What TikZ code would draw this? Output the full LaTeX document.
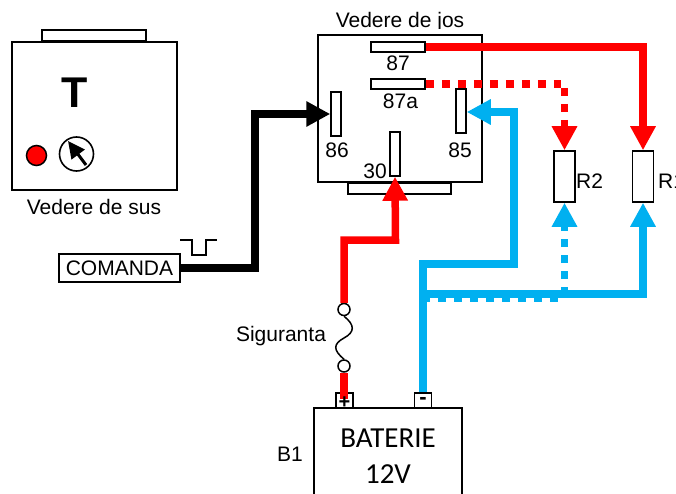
\documentclass[tikz,border=0pt]{standalone}
\usepackage{fontspec}
\setmainfont{Liberation Sans}
\newfontfamily\calib{Carlito}
\usetikzlibrary{arrows.meta,calc}
\definecolor{wred}{RGB}{255,0,0}
\definecolor{wblue}{RGB}{0,176,240}
\tikzset{
  pin/.style 2 args={draw=black,line width=1.5pt,fill=white,inner sep=0pt,minimum width=#1,minimum height=#2},
  lbl/.style={inner sep=0pt,font=\fontsize{21}{21}\selectfont,text=black},
  wire/.style={line width=7.5pt,line join=miter},
  tip/.style={-{Triangle[length=24pt,width=24pt]}},
  dots/.style={dash pattern=on 8pt off 8pt},
  term/.style={draw=black,line width=1.4pt,fill=white,inner sep=0pt,minimum width=17pt,minimum height=15pt},
  fusepin/.style={circle,draw=black,line width=1.5pt,fill=white,inner sep=0pt,minimum size=12pt}
}
\begin{document}
\begin{tikzpicture}[x=1pt,y=-1pt]
\useasboundingbox (0,0) rectangle (676,494);
\clip (0,0) rectangle (676,494);
% top view
\node[pin={104pt}{11pt}] (toptab) at (94,35.5) {};
\node[pin={165pt}{148pt}] (topbox) at (94.5,116) {};
\node[inner sep=0pt,font=\bfseries\fontsize{43}{43}\selectfont] (tee) at (75,92.5) {T};
\node[circle,draw=black,line width=1.5pt,fill=wred,inner sep=0pt,minimum size=20pt] (led) at (36.5,155.5) {};
\node[circle,draw=black,line width=1.6pt,fill=white,inner sep=0pt,minimum size=34pt] (dial) at (76.5,154) {};
\coordinate (dialA) at (86,165);
\coordinate (dialB) at (68,141);
\draw[line width=3pt,-{Triangle[length=17pt,width=16pt]}] (dialA) -- (dialB);
\node[lbl] (tsus) at (94,207) {Vedere de sus};
% command
\node[pin={121pt}{28pt}] (cmd) at (119.5,268) {};
\node[lbl] at (cmd) {COMANDA};
\coordinate (puA) at (180,240);
\coordinate (puB) at (217,240);
\draw[line width=1.2pt] (puA) -- ++(12,0) -- ++(0,15) -- ++(14,0) -- ++(0,-15) -- (puB);
% relay
\node[lbl,anchor=base] (tjos) at (400,28) {Vedere de jos};
\fill[white] (330,29.5) rectangle (470,35);
\node[pin={103pt}{11pt}] (rtab) at (399.5,188.5) {};
\node[pin={164pt}{147pt}] (relay) at (400,108.5) {};
\node[pin={54pt}{10pt}] (p87) at (398,47) {};
\node[pin={54pt}{10pt}] (p87a) at (398,84) {};
\node[pin={10pt}{44pt}] (p86) at (336,114) {};
\node[pin={10pt}{44pt}] (p85) at (461,111) {};
\node[pin={10pt}{44pt}] (p30) at (395,154) {};
\node[lbl] at (398,63) {87};
\node[lbl] at (400.5,101) {87a};
\node[lbl] at (337,150) {86};
\node[lbl] at (460,150) {85};
\node[lbl] at (375,171) {30};
% loads
\node[pin={21pt}{51pt}] (r2) at (564.5,176.5) {};
\node[pin={21pt}{51pt}] (r1) at (643,176.5) {};
\node[lbl,anchor=west] at (576,181) {R2};
\node[lbl,anchor=west] at (658,181) {R1};
% battery
\node[term] (tplus) at (344.5,400.5) {};
\node[term] (tminus) at (423,400.5) {};
\node[pin={148pt}{120pt}] (bat) at (388,468) {};
\node[inner sep=0pt,font=\calib\fontsize{29}{29}\selectfont] at (388,438) {BATERIE};
\node[inner sep=0pt,font=\calib\fontsize{29}{29}\selectfont] at (388,474) {12V};
\node[lbl] at (290,454) {B1};
\node[lbl] at (281,336) {Siguranta};
% wires
\coordinate (plusin) at (344,399);
\node[fusepin] (fa) at (344,309.5) {};
\node[fusepin] (fb) at (344,366) {};
\draw[wire,wred] (plusin) -- (fb.south);
\draw[wire,wred,tip] (fa.north) |- (395.5,240) -- (p30.south);
\draw[line width=1.5pt] (fa.south) .. controls (355,325) and (355,332) .. (344,338) .. controls (333,344) and (333,350) .. (fb.north);
\draw[wire,black,tip] (cmd.east) -- (255,268) -- (255,114) -- (p86.west);
\draw[wire,wred,tip] (p87.east) -- (643,47) -- (r1.north);
\draw[wire,wred,dots] (p87a.east) -- (561,84);
\draw[wire,wred,dots,tip] (564.5,88) -- (r2.north);
\draw[wire,wblue,tip] (tminus.north) -- (423,264) -- (514,264) -- (514,112) -- (p85.east |- 0,112);
\draw[wire,wblue,dots] (422,298) -- (560,298);
\draw[wire,wblue,tip] (423,294) -- (643,294) -- (r1.south);
\draw[wire,wblue,dots,tip] (564.5,295) -- (r2.south);
\node[inner sep=0pt,font=\bfseries\fontsize{20}{20}\selectfont] at (344.5,403) {+};
\node[inner sep=0pt,font=\bfseries\fontsize{22}{22}\selectfont] at (423,401) {-};
\end{tikzpicture}
\end{document}
